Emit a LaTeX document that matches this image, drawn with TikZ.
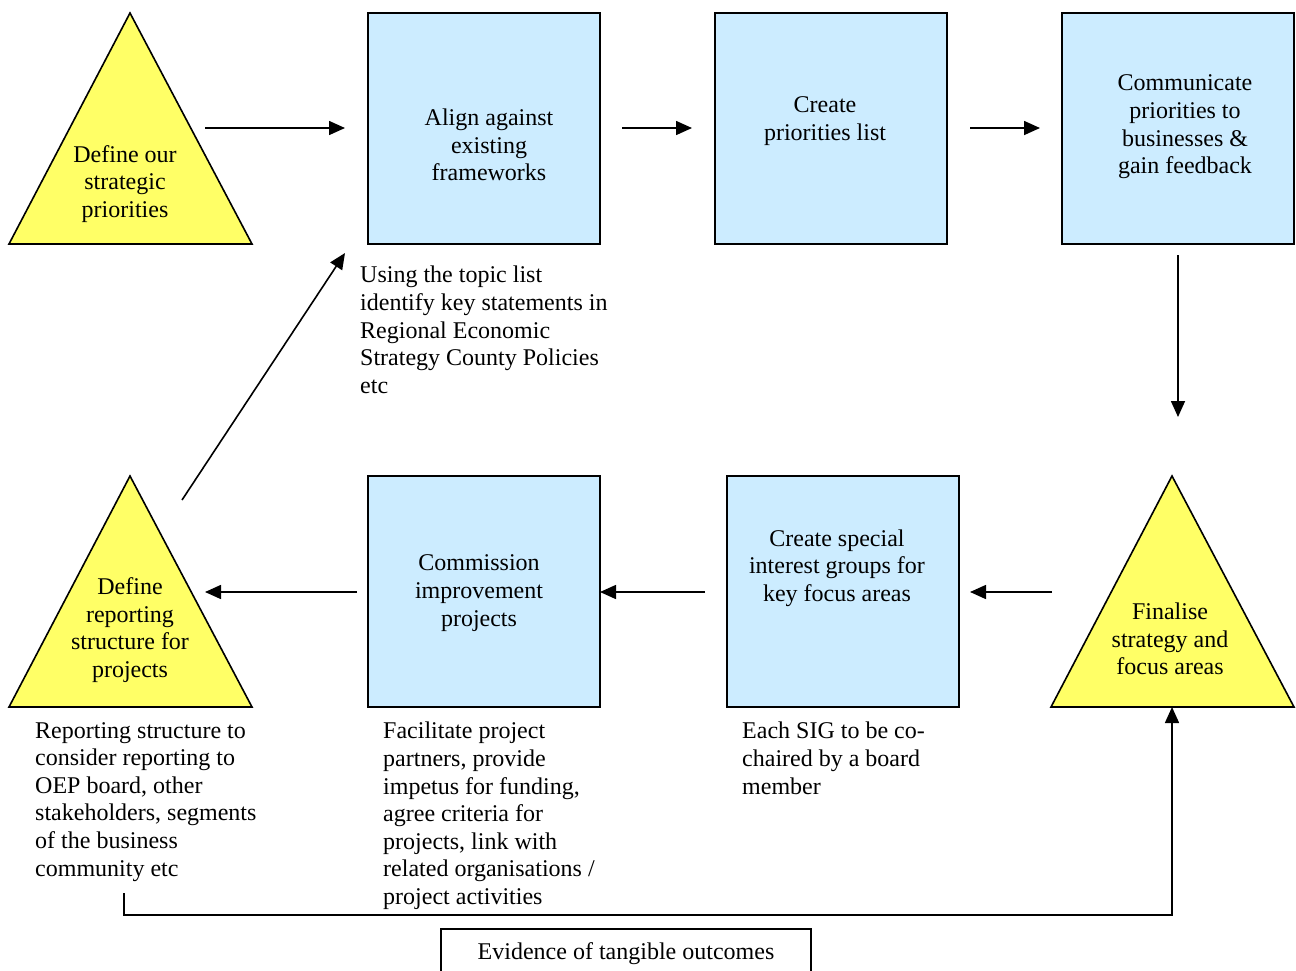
\documentclass[tikz,border=0pt]{standalone}
\usepackage{fontspec}
\setmainfont{Liberation Serif}
\usetikzlibrary{arrows.meta}
\definecolor{tri}{HTML}{FFFF66}
\definecolor{boxc}{HTML}{CCECFF}
\tikzset{
  tribox/.style={draw=black,fill=tri,line width=1.6pt,line join=miter},
  bluebox/.style={draw=black,fill=boxc,line width=1.6pt},
  lbl/.style={align=center,font=\fontsize{24}{27.6}\selectfont,inner sep=0pt},
  note/.style={align=left,font=\fontsize{24}{27.6}\selectfont,inner sep=0pt,anchor=north west},
  arr/.style={line width=1.6pt,-{Triangle[length=16pt,width=14pt]}},
  plain/.style={line width=1.6pt}
}
\begin{document}
\begin{tikzpicture}[x=1pt,y=-1pt]
\useasboundingbox (0,0) rectangle (1296,970);
% top row shapes
\draw[tribox] (130,13) -- (252,244) -- (9,244) -- cycle;
\node[lbl] (t1) at (125,184) {Define our\\strategic\\priorities};
\draw[bluebox] (368,13) rectangle (600,244);
\node[lbl] (b1) at (489,145) {Align against\\existing\\frameworks};
\draw[bluebox] (715,13) rectangle (947,244);
\node[lbl] (b2) at (825,121) {Create\\priorities list};
\draw[bluebox] (1062,13) rectangle (1294,244);
\node[lbl] (b3) at (1185,127) {Communicate\\priorities to\\businesses \&\\gain feedback};
% bottom row shapes
\draw[tribox] (130,476) -- (252,707) -- (9,707) -- cycle;
\node[lbl] (t2) at (130,630) {Define\\reporting\\structure for\\projects};
\draw[bluebox] (368,476) rectangle (600,707);
\node[lbl] (b4) at (479,593) {Commission\\improvement\\projects};
\draw[bluebox] (727,476) rectangle (959,707);
\node[lbl] (b5) at (837,568) {Create special\\interest groups for\\key focus areas};
\draw[tribox] (1172,476) -- (1294,707) -- (1051,707) -- cycle;
\node[lbl] (t3) at (1170,639) {Finalise\\strategy and\\focus areas};
% notes
\node[note] (n1) at (360,266) {Using the topic list\\identify key statements in\\Regional Economic\\Strategy County Policies\\etc};
\node[note] (n2) at (35,722) {Reporting structure to\\consider reporting to\\OEP board, other\\stakeholders, segments\\of the business\\community etc};
\node[note] (n3) at (383,722) {Facilitate project\\partners, provide\\impetus for funding,\\agree criteria for\\projects, link with\\related organisations /\\project activities};
\node[note] (n4) at (742,722) {Each SIG to be co-\\chaired by a board\\member};
% evidence box
\draw[plain] (441,980) -- (441,929) -- (811,929) -- (811,980);
\node[lbl] (ev) at (626,954) {Evidence of tangible outcomes};
% connector end points
\coordinate (a1s) at (205,128); \coordinate (a1e) at (345,128);
\coordinate (a2s) at (622,128); \coordinate (a2e) at (692,128);
\coordinate (a3s) at (970,128); \coordinate (a3e) at (1040,128);
\coordinate (a4s) at (1178,255); \coordinate (a4e) at (1178,417);
\coordinate (a5s) at (1052,592); \coordinate (a5e) at (970,592);
\coordinate (a6s) at (705,592); \coordinate (a6e) at (600,592);
\coordinate (a7s) at (357,592); \coordinate (a7e) at (205,592);
\coordinate (a8s) at (182,500); \coordinate (a8e) at (345,253);
\coordinate (a9s) at (124,893); \coordinate (a9e) at (1172,707);
\draw[arr] (a1s) -- (a1e);
\draw[arr] (a2s) -- (a2e);
\draw[arr] (a3s) -- (a3e);
\draw[arr] (a4s) -- (a4e);
\draw[arr] (a5s) -- (a5e);
\draw[arr] (a6s) -- (a6e);
\draw[arr] (a7s) -- (a7e);
\draw[arr] (a8s) -- (a8e);
\draw[arr] (a9s) |- (640,915) -| (a9e);
\end{tikzpicture}
\end{document}
